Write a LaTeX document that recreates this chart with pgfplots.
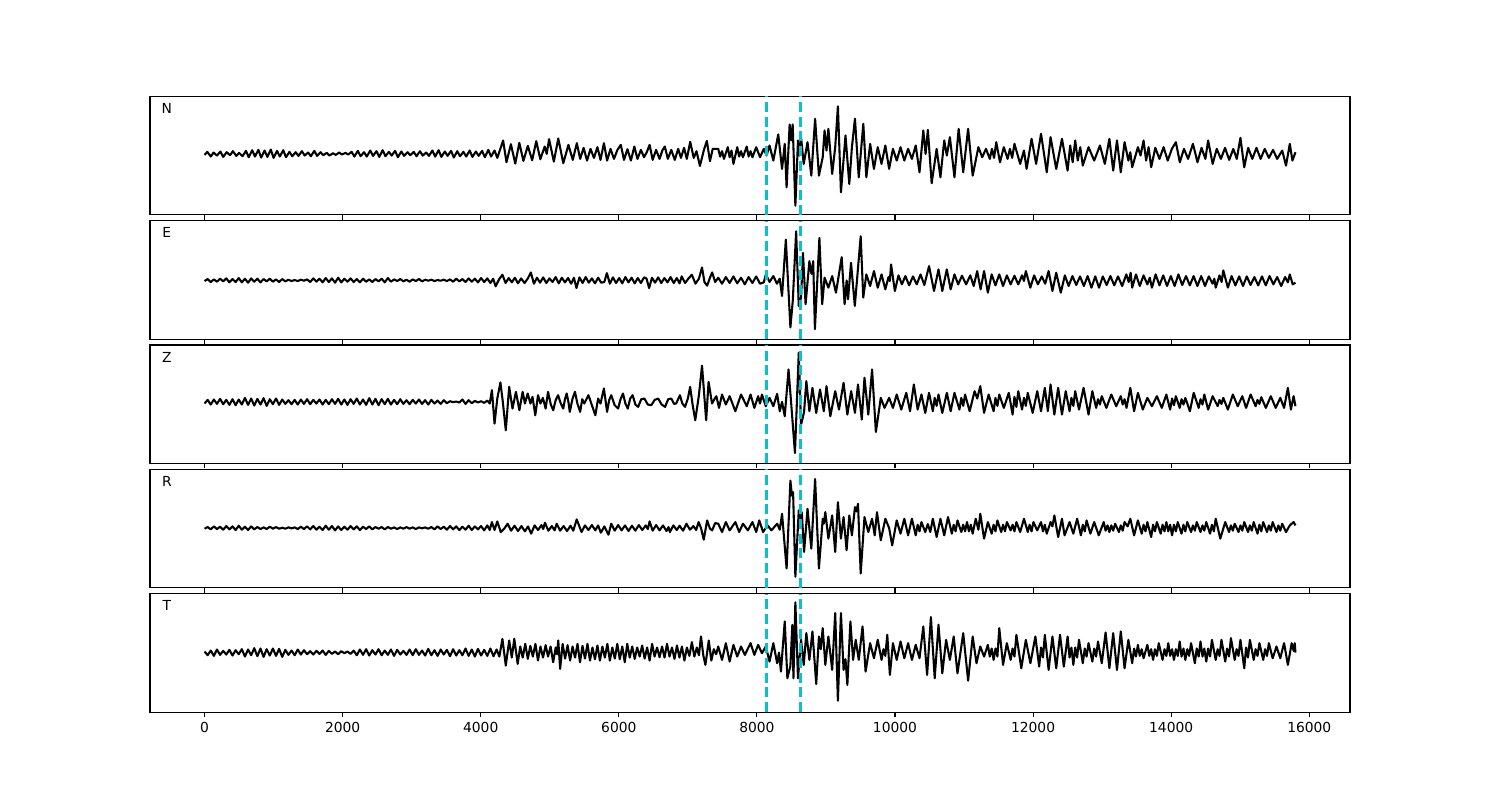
\documentclass[border=0pt]{standalone}
\usepackage{fontspec}
\setmainfont{DejaVu Sans}
\usepackage{pgfplots}
\pgfplotsset{compat=1.18}
\definecolor{cdash}{RGB}{12,190,200}
\pgfplotsset{
  panel/.style={
    anchor=south west, scale only axis, width=867.2pt, height=85.57pt,
    xmin=-790, xmax=16590, ytick=\empty,
    xtick={0,2000,...,16000}, xtick pos=bottom, tick align=outside,
    scaled x ticks=false,
    major tick length=3.5pt,
    every tick/.style={black, line width=0.8pt},
    axis line style={line width=0.8pt},
    ticklabel style={font=\fontsize{10}{12}\selectfont},
    /pgf/number format/assume math mode=true,
    /pgf/number format/1000 sep={},
    clip=true,
  },
}
\tikzset{
  trace/.style={black, line width=1.5pt, line join=round},
  pick/.style={cdash, line width=2pt, dash pattern=on 7.4pt off 3.2pt},
  lab/.style={font=\fontsize{10}{12}\selectfont, anchor=center},
}
\begin{document}
\begin{tikzpicture}
\path (0,0) rectangle (1084pt,578.2pt);
% ---------------- N ----------------
\begin{axis}[panel, at={(108.4pt,423.0pt)}, ymin=-182, ymax=172, xticklabels={}]
\addplot[trace] coordinates {(0,-3)(40,6)(90,-8)(130,4)(180,-5)(230,7)(270,-9)(320,5)(370,-4)(410,8)(460,-6)(500,3)(550,-7)(600,9)(640,-10)(690,11)(730,-8)(780,12)(820,-11)(870,10)(910,-9)(960,13)(1000,-12)(1050,9)(1090,-8)(1140,11)(1180,-10)(1230,6)(1270,-7)(1320,5)(1360,-6)(1410,8)(1450,-5)(1500,4)(1540,-7)(1590,9)(1630,-6)(1680,5)(1720,-4)(1770,3)(1810,-5)(1860,2)(1900,-3)(1950,4)(1990,-2)(2040,3)(2080,-2)(2130,6)(2170,-8)(2220,9)(2260,-7)(2310,5)(2350,-8)(2400,10)(2440,-6)(2490,8)(2530,-9)(2580,11)(2620,-7)(2670,6)(2710,-5)(2760,9)(2800,-10)(2850,7)(2890,-6)(2940,5)(2980,-4)(3030,6)(3070,-7)(3120,8)(3160,-5)(3210,4)(3250,-6)(3300,10)(3340,-8)(3390,11)(3430,-9)(3480,7)(3520,-6)(3570,9)(3610,-11)(3660,8)(3700,-7)(3750,6)(3790,-8)(3840,10)(3880,-9)(3930,7)(3970,-6)(4020,9)(4060,-10)(4110,12)(4150,-8)(4200,10)(4240,-12)
(4324,40)(4373,-25)(4437,29)(4500,-29)(4559,33)(4618,-21)(4682,24)(4745,-19)(4804,38)(4863,-16)(4927,22)(4956,0)(4990,44)(5059,-23)(5123,46)(5196,-28)(5270,27)(5333,-18)(5392,32)(5440,-15)(5490,18)(5540,-20)(5590,15)(5640,-12)(5690,20)(5735,-18)(5784,32)(5830,-20)(5880,15)(5930,-15)(5980,12)(6029,27)(6075,-18)(6125,14)(6175,-20)(6225,22)(6270,-15)(6320,12)(6365,-10)(6405,5)(6446,27)(6490,-18)(6540,12)(6590,-15)(6630,10)(6666,22)(6710,-15)(6760,12)(6810,-18)(6860,15)(6900,-12)(6945,18)(6985,-15)(7034,36)(7085,-12)(7125,8)(7175,-36)(7230,10)(7275,39)(7320,-22)(7360,15)
(7440,15)(7468,-8)(7495,8)(7523,-15)(7578,20)(7605,-10)(7632,10)(7660,-30)(7715,20)(7743,-8)(7770,8)(7798,-10)(7853,22)(7880,-8)(7908,8)(7935,-10)(7990,20)(8045,-10)(8100,15)(8140,-5)(8183,25)(8238,-20)(8309,58)(8364,-45)(8403,30)(8430,-100)(8474,88)(8496,40)(8518,88)(8557,-155)(8595,40)(8617,-5)(8639,50)(8678,-30)(8733,35)(8788,-65)(8843,105)(8898,-65)(8953,-10)(8980,70)(9008,10)(9035,75)(9090,-60)(9134,20)(9173,142)(9217,-115)(9283,55)(9338,-90)(9376,20)(9420,105)(9475,-70)(9541,90)(9585,-70)
(9640,30)(9695,-45)(9750,20)(9805,-30)(9860,25)(9915,-45)(9970,15)(10025,-20)(10080,20)(10135,-20)(10190,15)(10245,-15)(10300,25)(10355,-55)(10410,70)(10443,0)(10476,72)(10531,-88)(10603,15)(10658,-70)(10713,40)(10751,-5)(10795,50)(10861,-70)(10922,75)(10988,-55)(11059,75)(11125,-65)
(11208,20)(11263,-10)(11318,15)(11373,-15)(11404,15)(11435,-12)(11466,35)(11521,-25)(11576,20)(11631,-15)(11664,15)(11697,-12)(11730,30)(11813,-30)(11868,10)(11906,-45)(11978,45)(12044,-30)(12115,60)(12198,-55)(12253,50)(12335,-45)(12418,45)(12500,-50)(12537,25)(12573,-25)(12610,40)(12647,-20)(12683,20)(12720,-35)(12803,20)(12885,-20)(12968,25)(13039,-30)(13105,45)(13160,-50)(13215,40)(13270,-55)(13325,35)(13380,-20)(13408,5)(13435,-40)(13518,20)(13556,-5)(13600,40)(13637,-20)(13673,20)
(13710,-40)(13770,18)(13830,-15)(13890,20)(13950,-20)(14010,15)(14068,35)(14125,-25)(14185,15)(14245,-15)(14315,30)(14381,-25)(14440,18)(14495,-15)(14535,40)(14601,-30)(14660,15)(14720,-15)(14780,18)(14840,-18)(14900,15)(14950,-15)(15003,48)(15058,-40)(15115,18)(15175,-15)(15235,18)(15295,-15)(15355,15)(15415,-12)(15475,12)(15535,-15)(15608,10)(15663,-35)(15718,30)(15756,-20)(15800,5)};
\addplot[pick] coordinates {(8140,-182)(8140,172)};
\addplot[pick] coordinates {(8635,-182)(8635,172)};
\node[lab] at (rel axis cs:0.014,0.898) {N};
\end{axis}
% ---------------- E ----------------
\begin{axis}[panel, at={(108.4pt,333.15pt)}, ymin=-177, ymax=180, xticklabels={}]
\addplot[trace] coordinates {(0,-2)(45,4)(90,-5)(135,3)(180,-4)(225,5)(270,-3)(315,6)(360,-6)(405,4)(450,-5)(495,7)(540,-6)(585,5)(630,-7)(675,6)(720,-4)(765,5)(810,-6)(855,4)(900,-3)(945,5)(990,-4)(1035,3)(1080,-5)(1125,4)(1170,-3)(1215,2)(1260,-2)(1305,1)(1350,-2)(1395,2)(1440,-1)(1485,3)(1530,-5)(1575,6)(1620,-4)(1665,5)(1710,-6)(1755,7)(1800,-5)(1845,6)(1890,-7)(1935,8)(1980,-6)(2025,5)(2070,-4)(2115,6)(2160,-5)(2205,4)(2250,-6)(2295,5)(2340,-4)(2385,3)(2430,-5)(2475,4)(2520,-3)(2565,5)(2610,-6)(2655,7)(2700,-4)(2745,3)(2790,-2)(2835,4)(2880,-3)(2925,2)(2970,-4)(3015,3)(3060,-2)(3105,4)(3150,-3)(3195,2)(3240,-1)(3285,2)(3330,-2)(3375,1)(3420,-1)(3465,2)(3510,-2)(3555,3)(3600,-4)(3645,5)(3690,-3)(3735,4)(3780,-5)(3825,6)(3870,-4)(3915,5)(3960,-6)(4005,7)(4050,-5)(4095,6)(4140,-8)(4180,5)(4216,-18)(4265,3)(4314,17)
(4360,-8)(4405,7)(4450,-6)(4495,8)(4540,-9)(4585,6)(4635,-8)(4680,5)(4726,24)(4770,-10)(4815,8)(4860,-7)(4905,9)(4950,-8)(4995,6)(5040,-5)(5085,10)(5130,-9)(5175,8)(5220,-6)(5265,7)(5310,-10)(5350,8)(5386,-23)(5430,9)(5475,-8)(5520,10)(5565,-7)(5610,6)(5655,-9)(5700,8)(5745,-7)(5790,-5)(5827,22)(5870,-10)(5915,9)(5960,-8)(6005,7)(6050,-9)(6095,10)(6140,-6)(6185,8)(6230,-9)(6275,7)(6320,-8)(6365,9)(6400,6)(6439,-23)(6480,8)(6525,-7)(6570,9)(6615,-8)(6660,7)(6705,-6)(6750,10)(6795,-8)(6840,7)(6880,-9)(6911,12)(6960,-8)(7010,6)(7058,17)(7110,-10)(7160,5)(7205,39)(7240,-5)(7279,-16)(7320,8)(7352,24)(7395,-5)
(7440,8)(7495,-10)(7550,10)(7605,-8)(7660,12)(7715,-9)(7770,8)(7825,-12)(7880,10)(7935,-8)(7990,12)(8045,-10)(8100,-6)(8130,18)(8183,-5)(8238,13)(8290,-10)(8330,5)(8364,-47)(8419,123)(8485,-142)(8520,-60)(8568,148)(8606,-77)(8640,-50)(8667,83)(8705,-72)(8760,58)(8790,20)(8815,58)(8840,-147)(8905,128)(8945,-72)(8980,8)(9035,-22)(9090,13)(9145,-37)(9228,70)(9270,-72)(9300,0)(9320,-57)(9363,53)(9418,-77)(9503,133)(9540,-52)
(9585,18)(9640,-17)(9695,28)(9750,-22)(9805,18)(9860,-27)(9905,10)(9925,-2)(9943,48)(9998,-32)(10050,15)(10100,-12)(10150,13)(10205,-15)(10260,12)(10315,-12)(10370,18)(10425,-14)(10493,43)(10565,-32)(10630,33)(10685,-32)(10750,33)(10806,-27)(10861,18)(10915,-12)(10970,14)(11030,-12)(11090,15)(11140,-17)(11190,28)(11240,-27)(11290,28)(11345,-37)(11400,18)(11455,-15)(11510,18)(11565,-17)(11620,15)(11675,-12)(11730,14)(11785,-12)(11840,15)(11868,-2)(11895,28)(11960,-22)(12015,15)(12070,-12)(12125,12)(12175,-10)(12225,28)(12280,-32)(12335,23)(12401,-37)(12460,15)(12515,-17)(12570,13)(12625,-14)(12680,12)(12735,-17)(12790,13)(12845,-22)(12900,12)(12955,-22)(13010,12)(13065,-14)(13120,13)(13175,-15)(13230,12)(13290,-17)(13350,18)(13385,-5)(13413,23)(13435,-22)(13490,18)(13545,-17)(13600,15)(13655,-12)(13690,8)(13721,-22)(13775,18)(13830,-15)(13885,15)(13940,-17)(13995,13)(14050,-17)(14105,18)(14160,-14)(14215,13)(14270,-15)(14325,13)(14380,-17)(14435,13)(14490,-17)(14545,12)(14600,-10)(14625,5)(14645,-22)(14700,15)(14730,-5)(14755,30)(14821,-22)(14875,13)(14930,-15)(14985,12)(15040,-17)(15095,12)(15150,-14)(15205,10)(15260,-15)(15315,12)(15370,-15)(15425,13)(15480,-12)(15535,10)(15593,-17)(15650,10)(15690,-6)(15718,18)(15760,-12)(15800,-7)};
\addplot[pick] coordinates {(8140,-177)(8140,180)};
\addplot[pick] coordinates {(8635,-177)(8635,180)};
\node[lab] at (rel axis cs:0.014,0.898) {E};
\end{axis}
% ---------------- Z ----------------
\begin{axis}[panel, at={(108.4pt,243.3pt)}, ymin=-184, ymax=170, xticklabels={}]
\addplot[trace] coordinates {(0,-5)(45,6)(90,-8)(135,7)(180,-6)(225,9)(270,-7)(315,6)(360,-9)(405,8)(450,-10)(495,7)(540,-8)(585,12)(630,-9)(675,10)(720,-11)(765,9)(810,-8)(855,11)(900,-12)(945,8)(990,-7)(1035,10)(1080,-9)(1125,7)(1170,-6)(1215,5)(1260,-7)(1305,6)(1350,-8)(1395,7)(1440,-6)(1485,8)(1530,-7)(1575,6)(1620,-5)(1665,7)(1710,-8)(1755,6)(1800,-7)(1845,8)(1890,-6)(1935,9)(1980,-8)(2025,7)(2070,-9)(2115,8)(2160,-6)(2205,10)(2250,-8)(2295,7)(2340,-9)(2385,11)(2430,-8)(2475,9)(2520,-10)(2565,8)(2610,-7)(2655,9)(2700,-8)(2745,6)(2790,-7)(2835,8)(2880,-6)(2925,5)(2970,-7)(3015,6)(3060,-5)(3105,7)(3150,-6)(3195,5)(3240,-8)(3285,6)(3330,-5)(3375,4)(3420,-6)(3465,5)(3510,-4)(3555,2)(3600,-1)(3645,1)(3690,-2)(3735,7)(3780,-6)(3825,5)(3870,-4)(3915,3)(3960,-2)(4005,2)(4050,-3)(4095,4)(4130,-5)
(4162,35)(4200,-65)(4240,10)(4285,58)(4320,0)(4363,-85)(4412,45)(4460,-20)(4510,30)(4560,-25)(4607,30)(4640,-5)(4680,25)(4720,-5)(4750,15)(4790,-40)(4830,20)(4865,-5)(4900,12)(4940,-20)(4975,30)(5015,-8)(5050,-25)(5085,5)(5120,20)(5160,-5)(5195,-20)(5220,8)(5245,25)(5270,0)(5290,-30)(5330,10)(5365,30)(5400,-5)(5440,-30)(5470,8)(5500,-5)(5560,20)(5610,-10)(5660,-40)(5700,10)(5735,-5)(5784,40)(5830,-30)(5860,5)(5890,20)(5940,-10)(5990,-20)(6025,8)(6060,25)(6095,-5)(6130,-20)(6165,10)(6200,20)(6240,-8)(6280,-15)(6325,8)(6370,10)(6420,-8)(6470,-10)(6520,6)(6570,10)(6620,-8)(6670,-15)(6715,8)(6760,10)(6800,-6)(6830,-5)(6885,20)(6920,-5)(6960,-15)(7000,10)(7033,45)(7070,-10)(7107,-55)(7160,20)(7205,108)(7265,-55)(7300,60)(7350,-5)(7390,10)
(7413,17)(7451,-18)(7495,22)(7550,-8)(7605,17)(7688,-28)(7770,22)(7853,-13)(7908,22)(7963,-18)(8018,17)(8045,-5)(8073,22)(8128,-13)(8183,12)(8238,-13)(8293,24)(8331,-28)(8364,0)(8403,-43)(8458,97)(8502,-20)(8551,-153)(8606,147)(8639,-68)(8661,-50)(8683,-30)(8716,62)(8760,-28)(8804,42)(8859,-33)(8914,37)(8969,-28)(9008,47)(9063,-43)(9134,32)(9189,-23)(9255,57)(9310,-38)(9365,32)(9420,-33)(9464,52)(9519,-53)(9558,72)(9613,-38)(9668,97)
(9723,-90)(9794,12)(9849,-18)(9915,12)(9970,-18)(10025,22)(10091,-23)(10163,27)(10218,-28)(10273,52)(10328,-23)(10383,22)(10438,-33)(10493,27)(10548,-28)(10575,12)(10603,-12)(10630,22)(10685,-33)(10751,27)(10806,-28)(10861,27)(10933,-23)(10960,12)(10988,-12)(11015,22)(11081,-28)(11153,32)(11191,10)(11235,47)(11290,-33)(11356,22)(11428,-28)(11455,12)(11483,-12)(11510,22)(11576,-18)(11648,27)(11703,-38)(11730,15)(11758,-15)(11785,32)(11840,-23)(11868,12)(11895,-12)(11923,27)(11994,-33)(12060,32)(12115,-28)(12170,42)(12214,-28)(12253,52)(12308,-38)(12363,42)(12418,-38)(12473,32)(12528,-28)(12555,12)(12583,-12)(12610,32)(12665,-23)(12731,42)(12803,-38)(12858,32)(12913,-18)(12940,8)(12968,-8)(12995,17)(13061,-18)(13133,22)(13204,-13)(13270,17)(13298,-8)(13325,8)(13353,-18)(13408,42)(13463,-28)(13518,27)(13589,-23)(13655,12)(13721,-13)(13793,17)(13864,-18)(13930,22)(13985,-23)(14013,10)(14040,-10)(14068,17)(14123,-18)(14150,8)(14178,-8)(14205,12)(14271,-28)(14326,27)(14398,-18)(14425,8)(14453,-8)(14480,22)(14535,-23)(14601,17)(14673,-13)(14700,6)(14728,-6)(14755,12)(14821,-23)(14893,22)(14964,-13)(15030,17)(15085,-18)(15151,22)(15223,-13)(15250,6)(15278,-6)(15305,14)(15371,-18)(15443,17)(15514,-18)(15580,12)(15635,-18)(15690,42)(15734,-23)(15773,17)(15800,-13)};
\addplot[pick] coordinates {(8140,-184)(8140,170)};
\addplot[pick] coordinates {(8635,-184)(8635,170)};
\node[lab] at (rel axis cs:0.014,0.898) {Z};
\end{axis}
% ---------------- R ----------------
\begin{axis}[panel, at={(108.4pt,153.45pt)}, ymin=-180, ymax=177, xticklabels={}]
\addplot[trace] coordinates {(0,-2)(45,3)(90,-4)(135,5)(180,-3)(225,4)(270,-5)(315,6)(360,-4)(405,5)(450,-6)(495,7)(540,-5)(585,4)(630,-6)(675,5)(720,-4)(765,3)(810,-3)(855,2)(900,-3)(945,4)(990,-2)(1035,3)(1080,-2)(1125,1)(1170,-2)(1215,2)(1260,-1)(1305,2)(1350,-3)(1395,4)(1440,-3)(1485,5)(1530,-4)(1575,6)(1620,-5)(1665,4)(1710,-6)(1755,7)(1800,-5)(1845,6)(1890,-7)(1935,5)(1980,-6)(2025,4)(2070,-5)(2115,6)(2160,-4)(2205,5)(2250,-6)(2295,4)(2340,-3)(2385,5)(2430,-4)(2475,3)(2520,-2)(2565,3)(2610,-4)(2655,3)(2700,-2)(2745,2)(2790,-3)(2835,2)(2880,-2)(2925,3)(2970,-2)(3015,2)(3060,-3)(3105,2)(3150,-1)(3195,2)(3240,-2)(3285,3)(3330,-4)(3375,5)(3420,-3)(3465,4)(3510,-5)(3555,6)(3600,-4)(3645,5)(3690,-6)(3735,4)(3780,-5)(3825,7)(3870,-6)(3915,5)(3960,-4)(4005,6)(4050,-7)(4095,8)(4130,-6)
(4162,18)(4200,-6)(4240,20)(4290,-12)(4340,-2)(4390,13)(4440,-8)(4490,7)(4540,-9)(4590,6)(4640,-10)(4685,5)(4730,-17)(4780,8)(4830,-6)(4880,9)(4905,-3)(4930,16)(4980,-8)(5030,6)(5070,-7)(5100,13)(5150,-8)(5200,6)(5250,-9)(5300,7)(5340,-8)(5390,26)(5460,-12)(5510,8)(5560,-6)(5610,9)(5660,-7)(5700,8)(5740,-14)(5790,5)(5850,-20)(5890,13)(5940,-8)(5990,9)(6040,-7)(6090,8)(6140,-9)(6190,7)(6240,-8)(6290,9)(6340,-6)(6390,8)(6420,-3)(6446,20)(6490,-8)(6540,9)(6590,-7)(6640,8)(6690,-9)(6720,3)(6740,-12)(6790,8)(6840,-6)(6880,7)(6930,-8)(6980,13)(7030,-5)(7080,6)(7120,-6)(7156,18)(7190,0)(7230,-35)(7279,23)(7320,-2)(7352,-7)(7395,15)
(7440,13)(7495,-12)(7550,18)(7605,-7)(7688,18)(7743,-12)(7798,13)(7869,-7)(7935,18)(7990,-12)(8034,23)(8089,-12)(8155,8)(8210,-7)(8293,13)(8331,-5)(8364,43)(8430,-122)(8485,143)(8507,98)(8524,108)(8557,-147)(8606,53)(8628,3)(8650,48)(8683,-72)(8733,58)(8788,-62)(8843,148)(8898,-122)(8953,28)(8969,13)(8991,48)(9035,-32)(9090,38)(9134,-72)(9173,78)(9217,-32)(9255,33)(9299,-67)(9338,38)(9376,-22)(9420,63)(9442,50)(9464,73)(9503,-137)(9558,33)(9613,-12)(9668,28)(9706,-22)(9739,48)
(9794,-37)(9860,28)(9915,0)(9959,-52)(10025,23)(10080,-17)(10135,28)(10190,-22)(10245,28)(10300,-22)(10328,10)(10355,-10)(10383,18)(10438,-12)(10475,12)(10511,-12)(10548,28)(10603,-27)(10658,28)(10713,-22)(10768,33)(10823,-17)(10850,10)(10878,-10)(10905,23)(10960,-12)(10988,10)(11015,-10)(11043,18)(11070,-10)(11098,10)(11125,-17)(11169,28)(11208,-5)(11235,43)(11290,-32)(11345,18)(11400,-17)(11428,10)(11455,-10)(11483,23)(11538,-12)(11565,10)(11593,-10)(11620,18)(11675,-7)(11703,10)(11730,-10)(11758,18)(11813,-12)(11868,28)(11923,-12)(11950,10)(11978,-10)(12005,18)(12060,-7)(12115,18)(12143,-10)(12170,10)(12198,-17)(12253,18)(12280,5)(12308,38)(12363,-27)(12418,28)(12456,-22)(12528,18)(12583,-17)(12638,28)(12693,-22)(12720,10)(12748,-10)(12775,23)(12830,-17)(12885,18)(12951,-22)(13023,18)(13050,-8)(13078,8)(13105,-12)(13133,8)(13160,-8)(13188,13)(13243,-12)(13270,8)(13298,-8)(13325,18)(13369,5)(13408,28)(13463,-22)(13518,23)(13573,-17)(13600,10)(13628,-10)(13655,18)(13710,-27)(13738,10)(13765,-10)(13793,18)(13848,-17)(13875,10)(13903,-10)(13930,18)(13958,-10)(13985,10)(14013,-22)(14040,10)(14068,-10)(14095,18)(14150,-17)(14178,10)(14205,-10)(14233,18)(14288,-12)(14315,8)(14343,-8)(14370,18)(14425,-12)(14453,8)(14480,-8)(14508,18)(14563,-17)(14590,10)(14618,-10)(14645,28)(14711,-32)(14783,18)(14838,-12)(14865,8)(14893,-8)(14920,13)(14975,-12)(15003,8)(15030,-8)(15058,18)(15113,-12)(15140,8)(15168,-8)(15195,18)(15250,-17)(15278,10)(15305,-10)(15333,18)(15388,-12)(15415,8)(15443,-8)(15470,18)(15525,-12)(15553,8)(15580,-8)(15608,13)(15663,-12)(15718,8)(15773,18)(15800,8)};
\addplot[pick] coordinates {(8140,-180)(8140,177)};
\addplot[pick] coordinates {(8635,-180)(8635,177)};
\node[lab] at (rel axis cs:0.014,0.898) {R};
\end{axis}
% ---------------- T ----------------
\begin{axis}[panel, at={(108.4pt,63.6pt)}, ymin=-178, ymax=176]
\addplot[trace] coordinates {(0,3)(45,-8)(90,6)(135,-10)(180,9)(225,-7)(270,5)(315,-6)(360,8)(405,-9)(450,7)(495,-5)(540,10)(585,-12)(630,9)(675,-8)(720,13)(765,-11)(810,12)(855,-13)(900,10)(945,-9)(990,12)(1035,-10)(1080,11)(1125,-13)(1170,8)(1215,-7)(1260,6)(1305,-8)(1350,9)(1395,-6)(1440,7)(1485,-5)(1530,4)(1575,-6)(1620,5)(1665,-4)(1710,6)(1755,-7)(1800,5)(1845,-4)(1890,3)(1935,-5)(1980,4)(2025,-2)(2070,3)(2115,-4)(2160,6)(2205,-8)(2250,9)(2295,-7)(2340,10)(2385,-9)(2430,7)(2475,-6)(2520,10)(2565,-8)(2610,6)(2655,-7)(2700,9)(2745,-10)(2790,8)(2835,-6)(2880,5)(2925,-7)(2970,9)(3015,-8)(3060,10)(3105,-7)(3150,6)(3195,-9)(3240,11)(3285,-8)(3330,7)(3375,-10)(3420,9)(3465,-6)(3510,8)(3555,-11)(3600,10)(3645,-9)(3690,7)(3735,-8)(3780,12)(3825,-10)(3870,9)(3915,-12)(3960,11)(4005,-9)(4050,8)(4095,-10)(4140,12)(4185,-11)(4230,9)(4270,-12)
(4314,41)(4363,-39)(4412,36)(4450,-15)(4486,41)(4535,-34)(4572,18)(4608,-15)(4645,26)(4682,-19)(4718,20)(4755,-12)(4792,26)(4829,-24)(4865,18)(4902,-15)(4940,22)(4975,-12)(5012,18)(5049,-29)(5086,15)(5105,-5)(5123,36)(5150,-49)(5186,26)(5222,-18)(5258,22)(5294,-24)(5330,18)(5366,-15)(5402,26)(5438,-29)(5474,20)(5510,-18)(5546,26)(5582,-24)(5618,15)(5654,-20)(5690,21)(5726,-24)(5762,18)(5798,-15)(5834,26)(5870,-24)(5906,15)(5942,-18)(5978,26)(6014,-20)(6050,18)(6086,-29)(6122,26)(6158,-15)(6194,18)(6230,-19)(6266,15)(6302,-12)(6338,21)(6374,-18)(6410,15)(6446,-24)(6482,26)(6518,-12)(6554,15)(6590,-14)(6626,18)(6662,-15)(6698,26)(6734,-12)(6770,15)(6806,-19)(6842,21)(6878,-15)(6914,18)(6950,-24)(6986,15)(7022,-10)(7058,31)(7094,-12)(7130,15)(7160,-8)(7190,48)(7225,-10)(7254,-37)(7303,36)(7340,-24)(7376,10)(7410,-5)
(7440,18)(7495,-22)(7550,28)(7605,-27)(7660,23)(7715,-12)(7770,18)(7825,-7)(7908,28)(7963,-7)(8018,23)(8073,-2)(8128,18)(8183,-27)(8238,28)(8293,-32)(8320,0)(8348,-57)(8403,93)(8441,-77)(8485,-40)(8513,83)(8529,-77)(8557,150)(8595,-77)(8639,38)(8678,-37)(8716,58)(8760,-22)(8804,63)(8859,-94)(8898,48)(8925,10)(8953,73)(8991,-37)(9035,48)(9090,-52)(9134,118)(9173,-144)(9217,118)(9255,-52)(9283,-20)(9310,-97)(9354,93)(9393,-22)(9431,38)(9475,-22)(9530,78)(9574,-57)
(9640,28)(9695,-17)(9750,38)(9805,-22)(9833,10)(9860,-10)(9888,53)(9926,-67)(9970,28)(10025,-22)(10080,33)(10135,-17)(10190,28)(10245,-22)(10300,23)(10355,-17)(10410,78)(10465,-67)(10520,106)(10575,-77)(10630,83)(10685,-62)(10740,38)(10795,-22)(10850,48)(10905,-62)(10988,58)(11059,-84)(11125,48)
(11180,-32)(11235,18)(11290,-12)(11345,23)(11373,-12)(11400,12)(11428,-22)(11455,12)(11483,-12)(11510,73)(11565,-37)(11620,28)(11675,-22)(11703,12)(11730,-12)(11758,53)(11829,-47)(11895,38)(11961,-32)(12033,48)(12088,-42)(12115,15)(12143,-15)(12170,53)(12225,-52)(12280,48)(12335,-47)(12390,53)(12445,-42)(12500,48)(12528,-15)(12555,15)(12583,-37)(12610,15)(12638,-15)(12665,38)(12720,-32)(12748,12)(12775,-12)(12803,28)(12858,-27)(12885,12)(12913,-12)(12940,33)(12995,-32)(13050,60)(13105,-47)(13160,58)(13215,-52)(13270,63)(13325,-47)(13380,38)(13435,-32)(13463,12)(13490,-12)(13518,23)(13545,-10)(13573,10)(13600,-17)(13655,23)(13683,-10)(13710,10)(13738,-22)(13765,10)(13793,-10)(13820,28)(13875,-22)(13903,10)(13930,-10)(13958,28)(13985,-10)(14013,10)(14040,-22)(14068,10)(14095,-10)(14123,33)(14150,-12)(14178,12)(14205,-22)(14233,10)(14260,-10)(14288,28)(14343,-32)(14370,12)(14398,-12)(14425,33)(14453,-12)(14480,12)(14508,-27)(14535,12)(14563,-12)(14590,38)(14645,-22)(14673,10)(14700,-10)(14728,38)(14783,-27)(14810,12)(14838,-12)(14865,43)(14920,-22)(14948,10)(14975,-10)(15003,38)(15058,-47)(15085,15)(15113,-15)(15140,38)(15195,-22)(15223,10)(15250,-10)(15278,28)(15333,-22)(15360,10)(15388,-10)(15415,28)(15470,-17)(15525,18)(15580,-17)(15635,28)(15690,-37)(15745,28)(15773,5)(15790,28)(15800,0)};
\addplot[pick] coordinates {(8140,-178)(8140,176)};
\addplot[pick] coordinates {(8635,-178)(8635,176)};
\node[lab] at (rel axis cs:0.014,0.898) {T};
\end{axis}
\end{tikzpicture}
\end{document}
